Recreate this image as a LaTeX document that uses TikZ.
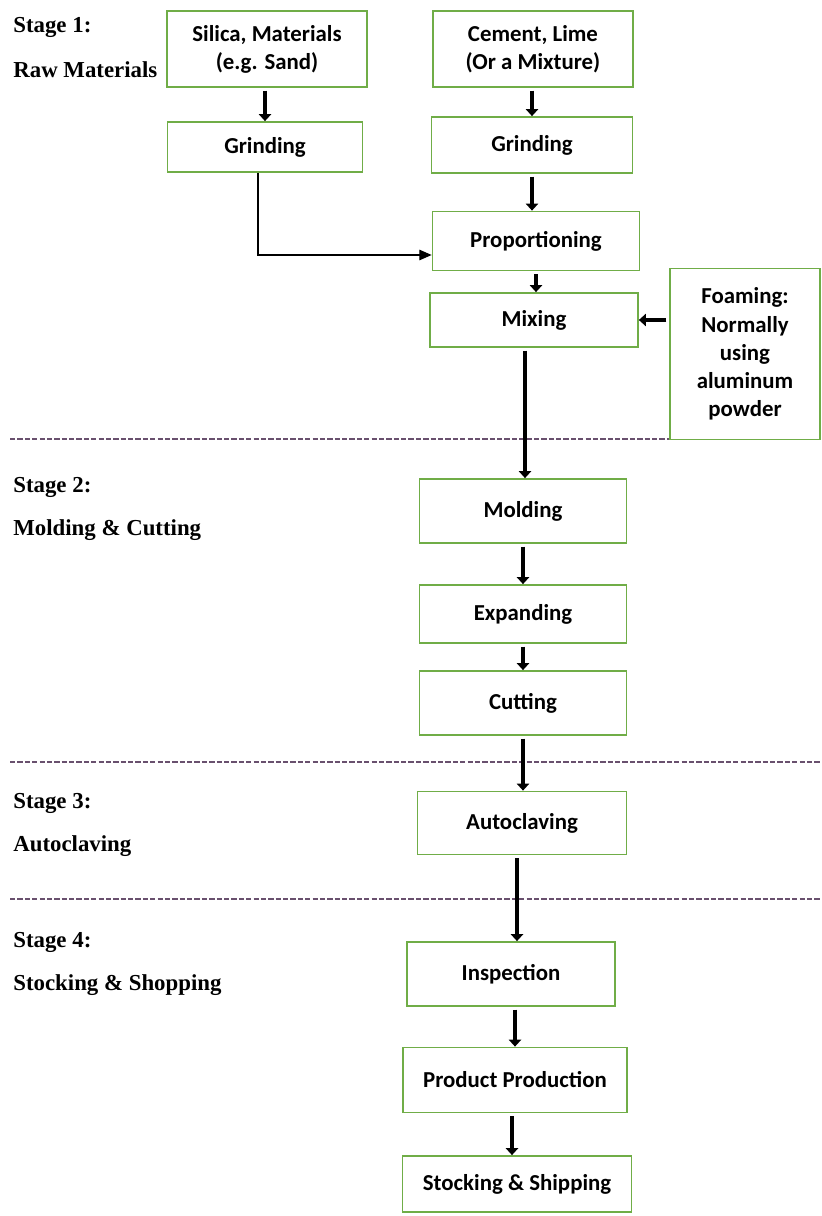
\documentclass[tikz,border=0pt]{standalone}
\usepackage{fontspec}
\usepackage{tikz}
\usetikzlibrary{arrows.meta}
\setmainfont{Liberation Serif}
\newfontfamily\boxfont{Carlito}
\definecolor{boxgreen}{RGB}{112,173,71}
\definecolor{sepline}{RGB}{105,80,110}

\begin{document}
\begin{tikzpicture}[x=0.02cm,y=-0.02cm,
    stepbox/.style={draw=boxgreen,line width=1pt,align=center,inner sep=2pt,
        font=\boxfont\bfseries\fontsize{13}{16}\selectfont},
    flow/.style={line width=2.3pt,-{Triangle[length=4pt,width=7pt]},shorten <=1.5pt},
    thinflow/.style={line width=0.6pt,-{Triangle[length=7pt,width=6pt]}},
    sep/.style={sepline,line width=0.7pt,dash pattern=on 3pt off 1.2pt},
    stagetext/.style={anchor=west,inner sep=0pt,font=\bfseries\fontsize{13}{16}\selectfont}]
\useasboundingbox (0,0) rectangle (821,1216);
% stage 1: raw materials
\node[stepbox,minimum width=200*0.02cm,minimum height=76*0.02cm] (silica) at (267,49) {Silica, Materials\\(e.g. Sand)};
\node[stepbox,minimum width=195*0.02cm,minimum height=50*0.02cm] (grindA) at (265,147) {Grinding};
\node[stepbox,minimum width=200*0.02cm,minimum height=76*0.02cm] (cement) at (533,49) {Cement, Lime\\(Or a Mixture)};
\node[stepbox,minimum width=201*0.02cm,minimum height=56*0.02cm] (grindB) at (532,145) {Grinding};
\node[stepbox,minimum width=207*0.02cm,minimum height=59*0.02cm] (prop) at (536,241) {Proportioning};
\node[stepbox,minimum width=208*0.02cm,minimum height=54*0.02cm] (mix) at (534,320) {Mixing};
\node[stepbox,minimum width=150*0.02cm,minimum height=171*0.02cm] (foam) at (745,354) {Foaming:\\Normally\\using\\aluminum\\powder};
% stage 2: molding and cutting
\node[stepbox,minimum width=207*0.02cm,minimum height=64*0.02cm] (mold) at (523,511) {Molding};
\node[stepbox,minimum width=207*0.02cm,minimum height=58*0.02cm] (expand) at (523,614) {Expanding};
\node[stepbox,minimum width=207*0.02cm,minimum height=64*0.02cm] (cut) at (523,703) {Cutting};
% stage 3: autoclaving
\node[stepbox,minimum width=209*0.02cm,minimum height=63*0.02cm] (autoclave) at (522,823) {Autoclaving};
% stage 4: stocking
\node[stepbox,minimum width=208*0.02cm,minimum height=64*0.02cm] (inspect) at (511,974) {Inspection};
\node[stepbox,minimum width=224*0.02cm,minimum height=65*0.02cm] (product) at (515,1080) {Product Production};
\node[stepbox,minimum width=229*0.02cm,minimum height=56*0.02cm] (stock) at (517,1184) {Stocking \& Shipping};

% stage labels
\foreach \y/\name/\what in {27/Stage 1:/Raw Materials, 487/Stage 2:/Molding \& Cutting,
                           803/Stage 3:/Autoclaving, 942/Stage 4:/Stocking \& Shopping} {
    \node[stagetext] at (13,\y) {\name};
    \node[stagetext] at (13,\y+43) {\what};
}

% separators
\draw[sep] (10,439) -- (foam.west |- 0,439);
\draw[sep] (10,762) -- (821,762);
\draw[sep] (10,899) -- (821,899);

% arrows
\draw[flow] (silica.south -| grindA) -- (grindA.north);
\draw[flow] (cement.south -| grindB) -- (grindB.north);
\draw[flow] (grindB.south) -- (grindB |- prop.north);
\draw[flow] (prop.south) -- (prop |- mix.north);
\draw[flow] (foam.west |- mix) -- (mix.east);
\draw[flow] ([xshift=-9*0.02cm]mix.south) -- ([xshift=-9*0.02cm]mix.south |- mold.north);
\draw[flow] (mold.south) -- (expand.north);
\draw[flow] (expand.south) -- (cut.north);
\draw[flow] (cut.south) -- (cut.south |- autoclave.north);
\draw[flow] ([xshift=-5*0.02cm]autoclave.south) -- ([xshift=-5*0.02cm]autoclave.south |- inspect.north);
\draw[flow] (inspect.south -| product) -- (product.north);
\draw[flow] ([xshift=-3*0.02cm]product.south) -- ([xshift=-3*0.02cm]product.south |- stock.north);
\coordinate (bend) at (258,255);
\draw[thinflow] (grindA.south -| bend) -- (bend) -- (bend -| prop.west);
\end{tikzpicture}
\end{document}
